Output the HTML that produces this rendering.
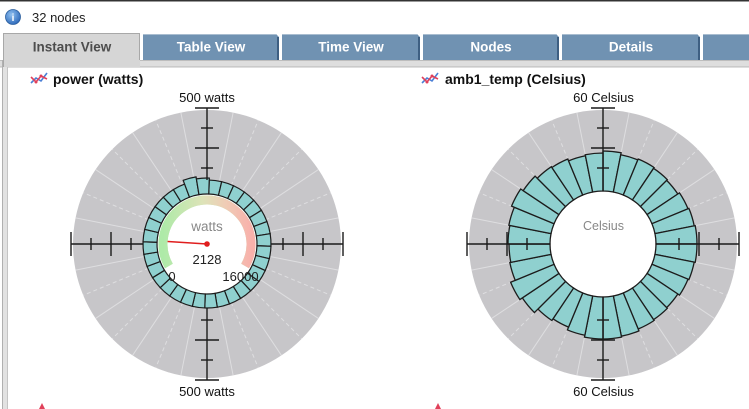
<!DOCTYPE html>
<html><head><meta charset="utf-8"><style>
html,body{margin:0;padding:0;background:#fff;}
svg{display:block;}
text{font-family:"Liberation Sans",Arial,sans-serif;}
</style></head><body>
<svg width="749" height="409" viewBox="0 0 749 409" xmlns="http://www.w3.org/2000/svg">
<defs>
<linearGradient id="gg" x1="163" y1="0" x2="251" y2="0" gradientUnits="userSpaceOnUse">
<stop offset="0" stop-color="#aeeaa8"/><stop offset="0.45" stop-color="#dde3b8"/><stop offset="0.7" stop-color="#efcdb6"/><stop offset="1" stop-color="#f8b1ab"/>
</linearGradient>
<radialGradient id="ig" cx="0.4" cy="0.35" r="0.7"><stop offset="0" stop-color="#8fc0f0"/><stop offset="1" stop-color="#2a66b8"/></radialGradient>
</defs>
<rect width="749" height="409" fill="#fff"/>
<rect x="0" y="0" width="749" height="1.5" fill="#333"/>
<!-- header -->
<circle cx="13" cy="17" r="7.5" fill="url(#ig)" stroke="#2b5f9e" stroke-width="0.8"/>
<text x="13" y="21" font-size="10" font-weight="bold" fill="#fff" text-anchor="middle">i</text>
<text x="32" y="22" font-size="13" fill="#222">32 nodes</text>
<!-- tab band -->
<rect x="0" y="60" width="749" height="8" fill="#dedede"/>
<line x1="0" y1="60.5" x2="749" y2="60.5" stroke="#bdbdbd"/>
<line x1="0" y1="66.5" x2="749" y2="66.5" stroke="#cacaca"/>
<!-- left border -->
<rect x="2" y="60" width="6" height="349" fill="#e2e2e2"/>
<line x1="2.5" y1="60" x2="2.5" y2="409" stroke="#b0b0b0"/>
<line x1="7.5" y1="67" x2="7.5" y2="409" stroke="#c4c4c4"/>
<!-- selected tab -->
<rect x="3" y="33" width="137" height="34" fill="#d6d6d6"/>
<path d="M3.5,67 V33.5 H139.5 V60" fill="none" stroke="#a8a8a8"/>
<text x="72" y="51.5" font-size="13.5" font-weight="bold" fill="#4d4d4d" text-anchor="middle">Instant View</text>
<!-- other tabs -->
<g>
<path d="M143,34 H276 L279,37 V60 H143 Z" fill="#7092b2"/><line x1="143" y1="34.5" x2="276" y2="34.5" stroke="#a9bdd0"/><line x1="278" y1="37" x2="278" y2="60" stroke="#3e5f82" stroke-width="2"/>
<text x="211" y="51.5" font-size="13.5" font-weight="bold" fill="#fff" text-anchor="middle">Table View</text>
<path d="M282,34 H417 L420,37 V60 H282 Z" fill="#7092b2"/><line x1="282" y1="34.5" x2="417" y2="34.5" stroke="#a9bdd0"/><line x1="419" y1="37" x2="419" y2="60" stroke="#3e5f82" stroke-width="2"/>
<text x="351" y="51.5" font-size="13.5" font-weight="bold" fill="#fff" text-anchor="middle">Time View</text>
<path d="M423,34 H556 L559,37 V60 H423 Z" fill="#7092b2"/><line x1="423" y1="34.5" x2="556" y2="34.5" stroke="#a9bdd0"/><line x1="558" y1="37" x2="558" y2="60" stroke="#3e5f82" stroke-width="2"/>
<text x="491" y="51.5" font-size="13.5" font-weight="bold" fill="#fff" text-anchor="middle">Nodes</text>
<path d="M562,34 H697 L700,37 V60 H562 Z" fill="#7092b2"/><line x1="562" y1="34.5" x2="697" y2="34.5" stroke="#a9bdd0"/><line x1="699" y1="37" x2="699" y2="60" stroke="#3e5f82" stroke-width="2"/>
<text x="631" y="51.5" font-size="13.5" font-weight="bold" fill="#fff" text-anchor="middle">Details</text>
<path d="M703,34 H749 V60 H703 Z" fill="#7092b2"/><line x1="703" y1="34.5" x2="749" y2="34.5" stroke="#a9bdd0"/>
</g>
<!-- titles -->
<g fill="none" stroke-width="1.6">
<polyline points="31,83 36,78 41,81 47,73" stroke="#4a7fd6"/>
<polyline points="31,77 36,82 41,76 47,79" stroke="#e0405a"/>
</g>
<circle cx="36" cy="82" r="1.5" fill="#e0405a"/><circle cx="41" cy="76" r="1.5" fill="#e0405a"/>
<text x="53" y="84" font-size="14" font-weight="bold" fill="#111">power (watts)</text>
<g fill="none" stroke-width="1.6">
<polyline points="422,83 427,78 432,81 438,73" stroke="#4a7fd6"/>
<polyline points="422,77 427,82 432,76 438,79" stroke="#e0405a"/>
</g>
<circle cx="427" cy="82" r="1.5" fill="#e0405a"/><circle cx="432" cy="76" r="1.5" fill="#e0405a"/>
<text x="445" y="84" font-size="14" font-weight="bold" fill="#111">amb1_temp (Celsius)</text>

<!-- LEFT CHART -->
<g transform="translate(207,244)">
<circle r="134" fill="#c7c6c9"/>
<g stroke="#e4e4e6" stroke-width="1" opacity="0.8">
<line y2="-134" transform="rotate(0)" stroke-dasharray="4 3"/><line y2="-134" transform="rotate(11.25)"/><line y2="-134" transform="rotate(22.5)" stroke-dasharray="4 3"/><line y2="-134" transform="rotate(33.75)"/>
<line y2="-134" transform="rotate(45)" stroke-dasharray="4 3"/><line y2="-134" transform="rotate(56.25)"/><line y2="-134" transform="rotate(67.5)" stroke-dasharray="4 3"/><line y2="-134" transform="rotate(78.75)"/>
<line y2="-134" transform="rotate(90)" stroke-dasharray="4 3"/><line y2="-134" transform="rotate(101.25)"/><line y2="-134" transform="rotate(112.5)" stroke-dasharray="4 3"/><line y2="-134" transform="rotate(123.75)"/>
<line y2="-134" transform="rotate(135)" stroke-dasharray="4 3"/><line y2="-134" transform="rotate(146.25)"/><line y2="-134" transform="rotate(157.5)" stroke-dasharray="4 3"/><line y2="-134" transform="rotate(168.75)"/>
<line y2="-134" transform="rotate(180)" stroke-dasharray="4 3"/><line y2="-134" transform="rotate(191.25)"/><line y2="-134" transform="rotate(202.5)" stroke-dasharray="4 3"/><line y2="-134" transform="rotate(213.75)"/>
<line y2="-134" transform="rotate(225)" stroke-dasharray="4 3"/><line y2="-134" transform="rotate(236.25)"/><line y2="-134" transform="rotate(247.5)" stroke-dasharray="4 3"/><line y2="-134" transform="rotate(258.75)"/>
<line y2="-134" transform="rotate(270)" stroke-dasharray="4 3"/><line y2="-134" transform="rotate(281.25)"/><line y2="-134" transform="rotate(292.5)" stroke-dasharray="4 3"/><line y2="-134" transform="rotate(303.75)"/>
<line y2="-134" transform="rotate(315)" stroke-dasharray="4 3"/><line y2="-134" transform="rotate(326.25)"/><line y2="-134" transform="rotate(337.5)" stroke-dasharray="4 3"/><line y2="-134" transform="rotate(348.75)"/>
</g>
<circle r="50" fill="#fff"/>
<g fill="#8fd0cf" stroke="#1c1c1c" stroke-width="1.2">
<path id="lb" d="M-4.9,-49.76L-6.27,-63.69A64 64 0 0 1 6.27,-63.69L4.9,-49.76A50 50 0 0 0 -4.9,-49.76Z" transform="rotate(7.625)"/>
<path d="M-4.9,-49.76L-6.27,-63.69A64 64 0 0 1 6.27,-63.69L4.9,-49.76A50 50 0 0 0 -4.9,-49.76Z" transform="rotate(18.875)"/>
<path d="M-4.9,-49.76L-6.27,-63.69A64 64 0 0 1 6.27,-63.69L4.9,-49.76A50 50 0 0 0 -4.9,-49.76Z" transform="rotate(30.125)"/>
<path d="M-4.9,-49.76L-6.27,-63.69A64 64 0 0 1 6.27,-63.69L4.9,-49.76A50 50 0 0 0 -4.9,-49.76Z" transform="rotate(41.375)"/>
<path d="M-4.9,-49.76L-6.27,-63.69A64 64 0 0 1 6.27,-63.69L4.9,-49.76A50 50 0 0 0 -4.9,-49.76Z" transform="rotate(52.625)"/>
<path d="M-4.9,-49.76L-6.27,-63.69A64 64 0 0 1 6.27,-63.69L4.9,-49.76A50 50 0 0 0 -4.9,-49.76Z" transform="rotate(63.875)"/>
<path d="M-4.9,-49.76L-6.27,-63.69A64 64 0 0 1 6.27,-63.69L4.9,-49.76A50 50 0 0 0 -4.9,-49.76Z" transform="rotate(75.125)"/>
<path d="M-4.9,-49.76L-6.27,-63.69A64 64 0 0 1 6.27,-63.69L4.9,-49.76A50 50 0 0 0 -4.9,-49.76Z" transform="rotate(86.375)"/>
<path d="M-4.9,-49.76L-6.27,-63.69A64 64 0 0 1 6.27,-63.69L4.9,-49.76A50 50 0 0 0 -4.9,-49.76Z" transform="rotate(97.625)"/>
<path d="M-4.9,-49.76L-6.27,-63.69A64 64 0 0 1 6.27,-63.69L4.9,-49.76A50 50 0 0 0 -4.9,-49.76Z" transform="rotate(108.875)"/>
<path d="M-4.9,-49.76L-6.27,-63.69A64 64 0 0 1 6.27,-63.69L4.9,-49.76A50 50 0 0 0 -4.9,-49.76Z" transform="rotate(120.125)"/>
<path d="M-4.9,-49.76L-6.27,-63.69A64 64 0 0 1 6.27,-63.69L4.9,-49.76A50 50 0 0 0 -4.9,-49.76Z" transform="rotate(131.375)"/>
<path d="M-4.9,-49.76L-6.27,-63.69A64 64 0 0 1 6.27,-63.69L4.9,-49.76A50 50 0 0 0 -4.9,-49.76Z" transform="rotate(142.625)"/>
<path d="M-4.9,-49.76L-6.27,-63.69A64 64 0 0 1 6.27,-63.69L4.9,-49.76A50 50 0 0 0 -4.9,-49.76Z" transform="rotate(153.875)"/>
<path d="M-4.9,-49.76L-6.27,-63.69A64 64 0 0 1 6.27,-63.69L4.9,-49.76A50 50 0 0 0 -4.9,-49.76Z" transform="rotate(165.125)"/>
<path d="M-4.9,-49.76L-6.27,-63.69A64 64 0 0 1 6.27,-63.69L4.9,-49.76A50 50 0 0 0 -4.9,-49.76Z" transform="rotate(176.375)"/>
<path d="M-4.9,-49.76L-6.27,-63.69A64 64 0 0 1 6.27,-63.69L4.9,-49.76A50 50 0 0 0 -4.9,-49.76Z" transform="rotate(187.625)"/>
<path d="M-4.9,-49.76L-6.27,-63.69A64 64 0 0 1 6.27,-63.69L4.9,-49.76A50 50 0 0 0 -4.9,-49.76Z" transform="rotate(198.875)"/>
<path d="M-4.9,-49.76L-6.27,-63.69A64 64 0 0 1 6.27,-63.69L4.9,-49.76A50 50 0 0 0 -4.9,-49.76Z" transform="rotate(210.125)"/>
<path d="M-4.9,-49.76L-6.27,-63.69A64 64 0 0 1 6.27,-63.69L4.9,-49.76A50 50 0 0 0 -4.9,-49.76Z" transform="rotate(221.375)"/>
<path d="M-4.9,-49.76L-6.27,-63.69A64 64 0 0 1 6.27,-63.69L4.9,-49.76A50 50 0 0 0 -4.9,-49.76Z" transform="rotate(232.625)"/>
<path d="M-4.9,-49.76L-6.27,-63.69A64 64 0 0 1 6.27,-63.69L4.9,-49.76A50 50 0 0 0 -4.9,-49.76Z" transform="rotate(243.875)"/>
<path d="M-4.9,-49.76L-6.27,-63.69A64 64 0 0 1 6.27,-63.69L4.9,-49.76A50 50 0 0 0 -4.9,-49.76Z" transform="rotate(255.125)"/>
<path d="M-4.9,-49.76L-6.27,-63.69A64 64 0 0 1 6.27,-63.69L4.9,-49.76A50 50 0 0 0 -4.9,-49.76Z" transform="rotate(266.375)"/>
<path d="M-4.9,-49.76L-6.27,-63.69A64 64 0 0 1 6.27,-63.69L4.9,-49.76A50 50 0 0 0 -4.9,-49.76Z" transform="rotate(277.625)"/>
<path d="M-4.9,-49.76L-6.27,-63.69A64 64 0 0 1 6.27,-63.69L4.9,-49.76A50 50 0 0 0 -4.9,-49.76Z" transform="rotate(288.875)"/>
<path d="M-4.9,-49.76L-6.27,-63.69A64 64 0 0 1 6.27,-63.69L4.9,-49.76A50 50 0 0 0 -4.9,-49.76Z" transform="rotate(300.125)"/>
<path d="M-4.9,-49.76L-6.27,-63.69A64 64 0 0 1 6.27,-63.69L4.9,-49.76A50 50 0 0 0 -4.9,-49.76Z" transform="rotate(311.375)"/>
<path d="M-4.9,-49.76L-6.27,-63.69A64 64 0 0 1 6.27,-63.69L4.9,-49.76A50 50 0 0 0 -4.9,-49.76Z" transform="rotate(322.625)"/>
<path d="M-4.9,-49.76L-6.27,-63.69A64 64 0 0 1 6.27,-63.69L4.9,-49.76A50 50 0 0 0 -4.9,-49.76Z" transform="rotate(333.875)"/>
<path d="M-4.9,-49.76L-6.67,-67.67A68 68 0 0 1 6.67,-67.67L4.9,-49.76A50 50 0 0 0 -4.9,-49.76Z" transform="rotate(345.125)"/>
<path d="M-4.9,-49.76L-6.47,-65.68A66 66 0 0 1 6.47,-65.68L4.9,-49.76A50 50 0 0 0 -4.9,-49.76Z" transform="rotate(356.375)"/>
</g>
<!-- axes -->
<g stroke="#1a1a1a" stroke-width="1.4">
<line x1="0" y1="-136" x2="0" y2="-64"/><line x1="0" y1="64" x2="0" y2="136"/>
<line x1="-136" y1="0" x2="-64" y2="0"/><line x1="64" y1="0" x2="136" y2="0"/>
<line x1="-12" y1="-136" x2="12" y2="-136"/><line x1="-6" y1="-116" x2="6" y2="-116"/><line x1="-12" y1="-96" x2="12" y2="-96"/><line x1="-6" y1="-76" x2="6" y2="-76"/>
<line x1="-12" y1="136" x2="12" y2="136"/><line x1="-6" y1="116" x2="6" y2="116"/><line x1="-12" y1="96" x2="12" y2="96"/><line x1="-6" y1="76" x2="6" y2="76"/>
<line y1="-12" x1="-136" y2="12" x2="-136"/><line y1="-6" x1="-116" y2="6" x2="-116"/><line y1="-12" x1="-96" y2="12" x2="-96"/><line y1="-6" x1="-76" y2="6" x2="-76"/>
<line y1="-12" x1="136" y2="12" x2="136"/><line y1="-6" x1="116" y2="6" x2="116"/><line y1="-12" x1="96" y2="12" x2="96"/><line y1="-6" x1="76" y2="6" x2="76"/>
</g>
<!-- gauge -->
<path d="M-38.1,22 A44 44 0 1 1 38.1,22" fill="none" stroke="url(#gg)" stroke-width="9" transform="translate(-207,-244) translate(207,244)"/>
</g>
<path d="M168.9,266 A44 44 0 1 1 245.1,266" fill="none" stroke="url(#gg)" stroke-width="9" opacity="0"/>
<text x="207" y="231" font-size="13.5" fill="#888" text-anchor="middle">watts</text>
<line x1="160" y1="241" x2="207" y2="244" stroke="#e01e1e" stroke-width="1.6"/>
<circle cx="207" cy="244" r="2.8" fill="#e01e1e"/>
<text x="207" y="264" font-size="13" fill="#222" text-anchor="middle">2128</text>
<text x="172" y="281" font-size="13" fill="#222" text-anchor="middle">0</text>
<text x="240.5" y="281" font-size="13" fill="#222" text-anchor="middle">16000</text>
<text x="207" y="102" font-size="13" fill="#111" text-anchor="middle">500 watts</text>
<text x="207" y="396" font-size="13" fill="#111" text-anchor="middle">500 watts</text>

<!-- RIGHT CHART -->
<g transform="translate(603,244)">
<circle r="134" fill="#c7c6c9"/>
<g stroke="#e4e4e6" stroke-width="1" opacity="0.8">
<line y2="-134" transform="rotate(0)" stroke-dasharray="4 3"/><line y2="-134" transform="rotate(11.25)"/><line y2="-134" transform="rotate(22.5)" stroke-dasharray="4 3"/><line y2="-134" transform="rotate(33.75)"/>
<line y2="-134" transform="rotate(45)" stroke-dasharray="4 3"/><line y2="-134" transform="rotate(56.25)"/><line y2="-134" transform="rotate(67.5)" stroke-dasharray="4 3"/><line y2="-134" transform="rotate(78.75)"/>
<line y2="-134" transform="rotate(90)" stroke-dasharray="4 3"/><line y2="-134" transform="rotate(101.25)"/><line y2="-134" transform="rotate(112.5)" stroke-dasharray="4 3"/><line y2="-134" transform="rotate(123.75)"/>
<line y2="-134" transform="rotate(135)" stroke-dasharray="4 3"/><line y2="-134" transform="rotate(146.25)"/><line y2="-134" transform="rotate(157.5)" stroke-dasharray="4 3"/><line y2="-134" transform="rotate(168.75)"/>
<line y2="-134" transform="rotate(180)" stroke-dasharray="4 3"/><line y2="-134" transform="rotate(191.25)"/><line y2="-134" transform="rotate(202.5)" stroke-dasharray="4 3"/><line y2="-134" transform="rotate(213.75)"/>
<line y2="-134" transform="rotate(225)" stroke-dasharray="4 3"/><line y2="-134" transform="rotate(236.25)"/><line y2="-134" transform="rotate(247.5)" stroke-dasharray="4 3"/><line y2="-134" transform="rotate(258.75)"/>
<line y2="-134" transform="rotate(270)" stroke-dasharray="4 3"/><line y2="-134" transform="rotate(281.25)"/><line y2="-134" transform="rotate(292.5)" stroke-dasharray="4 3"/><line y2="-134" transform="rotate(303.75)"/>
<line y2="-134" transform="rotate(315)" stroke-dasharray="4 3"/><line y2="-134" transform="rotate(326.25)"/><line y2="-134" transform="rotate(337.5)" stroke-dasharray="4 3"/><line y2="-134" transform="rotate(348.75)"/>
</g>
<circle r="53" fill="#fff"/>
<g fill="#8fd0cf" stroke="#1c1c1c" stroke-width="1.3">
<path d="M-5.2,-52.75L-9.12,-92.55A93 93 0 0 1 9.12,-92.55L5.2,-52.75A53 53 0 0 0 -5.2,-52.75Z" transform="rotate(5.625)"/>
<path d="M-5.2,-52.75L-8.92,-90.56A91 91 0 0 1 8.92,-90.56L5.2,-52.75A53 53 0 0 0 -5.2,-52.75Z" transform="rotate(16.875)"/>
<path d="M-5.2,-52.75L-9.02,-91.56A92 92 0 0 1 9.02,-91.56L5.2,-52.75A53 53 0 0 0 -5.2,-52.75Z" transform="rotate(28.125)"/>
<path d="M-5.2,-52.75L-8.92,-90.56A91 91 0 0 1 8.92,-90.56L5.2,-52.75A53 53 0 0 0 -5.2,-52.75Z" transform="rotate(39.375)"/>
<path d="M-5.2,-52.75L-8.82,-89.57A90 90 0 0 1 8.82,-89.57L5.2,-52.75A53 53 0 0 0 -5.2,-52.75Z" transform="rotate(50.625)"/>
<path d="M-5.2,-52.75L-9.02,-91.56A92 92 0 0 1 9.02,-91.56L5.2,-52.75A53 53 0 0 0 -5.2,-52.75Z" transform="rotate(61.875)"/>
<path d="M-5.2,-52.75L-9.12,-92.55A93 93 0 0 1 9.12,-92.55L5.2,-52.75A53 53 0 0 0 -5.2,-52.75Z" transform="rotate(73.125)"/>
<path d="M-5.2,-52.75L-9.21,-93.55A94 94 0 0 1 9.21,-93.55L5.2,-52.75A53 53 0 0 0 -5.2,-52.75Z" transform="rotate(84.375)"/>
<path d="M-5.2,-52.75L-9.21,-93.55A94 94 0 0 1 9.21,-93.55L5.2,-52.75A53 53 0 0 0 -5.2,-52.75Z" transform="rotate(95.625)"/>
<path d="M-5.2,-52.75L-9.12,-92.55A93 93 0 0 1 9.12,-92.55L5.2,-52.75A53 53 0 0 0 -5.2,-52.75Z" transform="rotate(106.875)"/>
<path d="M-5.2,-52.75L-9.02,-91.56A92 92 0 0 1 9.02,-91.56L5.2,-52.75A53 53 0 0 0 -5.2,-52.75Z" transform="rotate(118.125)"/>
<path d="M-5.2,-52.75L-8.82,-89.57A90 90 0 0 1 8.82,-89.57L5.2,-52.75A53 53 0 0 0 -5.2,-52.75Z" transform="rotate(129.375)"/>
<path d="M-5.2,-52.75L-8.92,-90.56A91 91 0 0 1 8.92,-90.56L5.2,-52.75A53 53 0 0 0 -5.2,-52.75Z" transform="rotate(140.625)"/>
<path d="M-5.2,-52.75L-9.02,-91.56A92 92 0 0 1 9.02,-91.56L5.2,-52.75A53 53 0 0 0 -5.2,-52.75Z" transform="rotate(151.875)"/>
<path d="M-5.2,-52.75L-9.21,-93.55A94 94 0 0 1 9.21,-93.55L5.2,-52.75A53 53 0 0 0 -5.2,-52.75Z" transform="rotate(163.125)"/>
<path d="M-5.2,-52.75L-9.31,-94.54A95 95 0 0 1 9.31,-94.54L5.2,-52.75A53 53 0 0 0 -5.2,-52.75Z" transform="rotate(174.375)"/>
<path d="M-5.2,-52.75L-9.31,-94.54A95 95 0 0 1 9.31,-94.54L5.2,-52.75A53 53 0 0 0 -5.2,-52.75Z" transform="rotate(185.625)"/>
<path d="M-5.2,-52.75L-9.12,-92.55A93 93 0 0 1 9.12,-92.55L5.2,-52.75A53 53 0 0 0 -5.2,-52.75Z" transform="rotate(196.875)"/>
<path d="M-5.2,-52.75L-8.82,-89.57A90 90 0 0 1 8.82,-89.57L5.2,-52.75A53 53 0 0 0 -5.2,-52.75Z" transform="rotate(208.125)"/>
<path d="M-5.2,-52.75L-9.02,-91.56A92 92 0 0 1 9.02,-91.56L5.2,-52.75A53 53 0 0 0 -5.2,-52.75Z" transform="rotate(219.375)"/>
<path d="M-5.2,-52.75L-9.51,-96.53A97 97 0 0 1 9.51,-96.53L5.2,-52.75A53 53 0 0 0 -5.2,-52.75Z" transform="rotate(230.625)"/>
<path d="M-5.2,-52.75L-9.8,-99.52A100 100 0 0 1 9.8,-99.52L5.2,-52.75A53 53 0 0 0 -5.2,-52.75Z" transform="rotate(241.875)"/>
<path d="M-5.2,-52.75L-9.31,-94.54A95 95 0 0 1 9.31,-94.54L5.2,-52.75A53 53 0 0 0 -5.2,-52.75Z" transform="rotate(253.125)"/>
<path d="M-5.2,-52.75L-9.21,-93.55A94 94 0 0 1 9.21,-93.55L5.2,-52.75A53 53 0 0 0 -5.2,-52.75Z" transform="rotate(264.375)"/>
<path d="M-5.2,-52.75L-9.31,-94.54A95 95 0 0 1 9.31,-94.54L5.2,-52.75A53 53 0 0 0 -5.2,-52.75Z" transform="rotate(275.625)"/>
<path d="M-5.2,-52.75L-9.41,-95.54A96 96 0 0 1 9.41,-95.54L5.2,-52.75A53 53 0 0 0 -5.2,-52.75Z" transform="rotate(286.875)"/>
<path d="M-5.2,-52.75L-9.7,-98.52A99 99 0 0 1 9.7,-98.52L5.2,-52.75A53 53 0 0 0 -5.2,-52.75Z" transform="rotate(298.125)"/>
<path d="M-5.2,-52.75L-9.41,-95.54A96 96 0 0 1 9.41,-95.54L5.2,-52.75A53 53 0 0 0 -5.2,-52.75Z" transform="rotate(309.375)"/>
<path d="M-5.2,-52.75L-9.12,-92.55A93 93 0 0 1 9.12,-92.55L5.2,-52.75A53 53 0 0 0 -5.2,-52.75Z" transform="rotate(320.625)"/>
<path d="M-5.2,-52.75L-9.02,-91.56A92 92 0 0 1 9.02,-91.56L5.2,-52.75A53 53 0 0 0 -5.2,-52.75Z" transform="rotate(331.875)"/>
<path d="M-5.2,-52.75L-8.82,-89.57A90 90 0 0 1 8.82,-89.57L5.2,-52.75A53 53 0 0 0 -5.2,-52.75Z" transform="rotate(343.125)"/>
<path d="M-5.2,-52.75L-8.92,-90.56A91 91 0 0 1 8.92,-90.56L5.2,-52.75A53 53 0 0 0 -5.2,-52.75Z" transform="rotate(354.375)"/>
</g>
<g stroke="#1a1a1a" stroke-width="1.4">
<line x1="0" y1="-136" x2="0" y2="-53"/><line x1="0" y1="53" x2="0" y2="136"/>
<line x1="-136" y1="0" x2="-53" y2="0"/><line x1="53" y1="0" x2="136" y2="0"/>
<line x1="-12" y1="-136" x2="12" y2="-136"/><line x1="-6" y1="-116" x2="6" y2="-116"/><line x1="-12" y1="-96" x2="12" y2="-96"/><line x1="-6" y1="-76" x2="6" y2="-76"/>
<line x1="-12" y1="136" x2="12" y2="136"/><line x1="-6" y1="116" x2="6" y2="116"/><line x1="-12" y1="96" x2="12" y2="96"/><line x1="-6" y1="76" x2="6" y2="76"/>
<line y1="-12" x1="-136" y2="12" x2="-136"/><line y1="-6" x1="-116" y2="6" x2="-116"/><line y1="-12" x1="-96" y2="12" x2="-96"/><line y1="-6" x1="-76" y2="6" x2="-76"/>
<line y1="-12" x1="136" y2="12" x2="136"/><line y1="-6" x1="116" y2="6" x2="116"/><line y1="-12" x1="96" y2="12" x2="96"/><line y1="-6" x1="76" y2="6" x2="76"/>
</g>
</g>
<text x="603.5" y="230" font-size="12.5" fill="#888" text-anchor="middle">Celsius</text>
<text x="603.5" y="102" font-size="13" fill="#111" text-anchor="middle">60 Celsius</text>
<text x="603.5" y="396" font-size="13" fill="#111" text-anchor="middle">60 Celsius</text>

<!-- gauge arc (absolute) -->
<path d="M168.9,266 A44 44 0 1 1 245.1,266" fill="none" stroke="url(#gg)" stroke-width="9"/>

<!-- bottom partial icons -->
<path d="M39,409 L42,403 L45,409 Z" fill="#e0405a"/>
<path d="M435,409 L438,403 L441,409 Z" fill="#e0405a"/>
</svg>
</body></html>
